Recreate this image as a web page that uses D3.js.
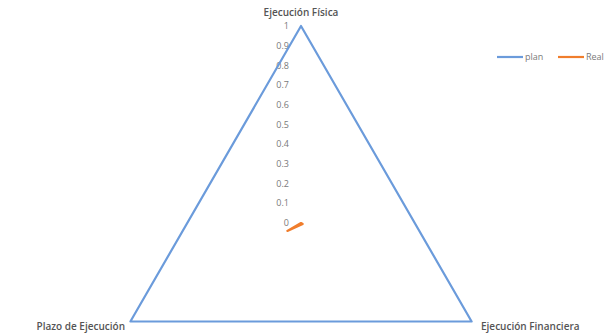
<!DOCTYPE html>
<html>
<head>
<meta charset="utf-8">
<script src="https://cdnjs.cloudflare.com/ajax/libs/d3/7.8.5/d3.min.js"></script>
<style>
  body { margin: 0; background: #fff; }
  svg { display: block; font-family: "Open Sans", "Liberation Sans", sans-serif; }
</style>
</head>
<body>
<svg id="chart" width="613" height="335"></svg>
<script>
// data
var axes = ["Ejecución Física", "Ejecución Financiera", "Plazo de Ejecución"];
var planValues = [1, 1, 1];
var realValues = [0, 0.01, 0.08];
var tickValues = [0, 0.1, 0.2, 0.3, 0.4, 0.5, 0.6, 0.7, 0.8, 0.9, 1];
var seriesNames = ["plan", "Real"];
var seriesColors = ["#6b9bdb", "#f07d2c"];

var svg = d3.select("#chart");
var cx = 301, cy = 223, radius = 197;

var r = d3.scaleLinear().domain([0, 1]).range([0, radius]);
var angle = d3.scaleLinear().domain([0, axes.length]).range([0, 2 * Math.PI]);

var line = d3.lineRadial()
    .angle(function(d, i) { return angle(i); })
    .radius(function(d) { return r(d); })
    .curve(d3.curveLinearClosed);

var g = svg.append("g").attr("transform", "translate(" + cx + "," + cy + ")");

//tick labels on the vertical axis
g.selectAll("text.tick").data(tickValues).enter().append("text")
    .attr("class", "tick")
    .attr("x", -12)
    .attr("y", function(d) { return -r(d); })
    .attr("dy", "0.35em")
    .attr("text-anchor", "end")
    .attr("fill", "#7a7a7a")
    .style("font-size", "9px")
    .text(function(d) { return d3.format("")(d); });

//series
[planValues, realValues].forEach(function(vals, i) {
    g.append("path")
        .attr("d", line(vals))
        .attr("fill", "none")
        .attr("stroke", seriesColors[i])
        .attr("stroke-width", 2.2)
        .attr("stroke-linejoin", "round");
});

//axis titles
var titlePos = [
    {x: 0, y: -r(1) - 14, anchor: "middle"},
    {x: 180, y: 103, anchor: "start"},
    {x: -176, y: 103, anchor: "end"}
];
axes.forEach(function(a, i) {
    g.append("text")
        .attr("x", titlePos[i].x)
        .attr("y", titlePos[i].y)
        .attr("dy", "0.35em")
        .attr("text-anchor", titlePos[i].anchor)
        .attr("fill", "#555")
        .style("font-size", "10px")
        .style("font-weight", "600")
        .text(a);
});

//legend
var legend = svg.append("g").attr("transform", "translate(497,57)");
seriesNames.forEach(function(n, i) {
    var lg = legend.append("g").attr("transform", "translate(" + (i * 61) + ",0)");
    lg.append("line").attr("x1", 0).attr("x2", 26).attr("y1", 0).attr("y2", 0)
        .attr("stroke", seriesColors[i]).attr("stroke-width", 2.2);
    lg.append("text").attr("x", 28).attr("y", 0).attr("dy", "0.35em")
        .attr("fill", "#7a7a7a").style("font-size", "9px").text(n);
});
</script>
</body>
</html>
